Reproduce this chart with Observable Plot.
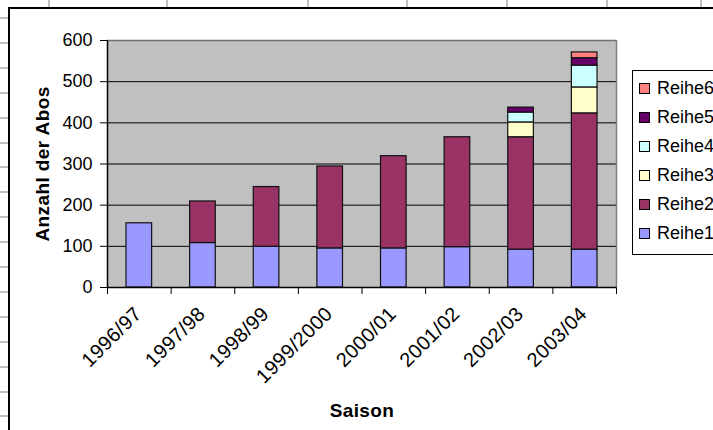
<!DOCTYPE html>
<html>
<head>
<meta charset="utf-8">
<script src="https://cdn.jsdelivr.net/npm/d3@7"></script>
<script src="https://cdn.jsdelivr.net/npm/@observablehq/plot@0.6"></script>
<style>
  html, body { margin: 0; padding: 0; background: #fff; }
  body { width: 713px; height: 430px; overflow: hidden; position: relative; font-family: "Liberation Sans", Arial, sans-serif; }
  .sheet-v { position: absolute; top: 0; width: 2px; height: 12px; background: #c0c0c0; }
  .sheet-h { position: absolute; left: 0; height: 2px; width: 14px; background: #c0c0c0; }
  #frame { position: absolute; left: 8px; top: 7px; width: 760px; height: 480px; border-left: 2px solid #000; border-top: 2px solid #000; background: #fff; }
  #chart { position: absolute; left: 0; top: 0; }
  #legend { position: absolute; left: 632px; top: 70px; width: 110px; height: 183px; border: 1px solid #000; background: #fff; }
  .item { position: absolute; left: 0; height: 20px; line-height: 20px; font-size: 18px; color: #000; white-space: nowrap; }
  .sw { position: absolute; left: 6px; top: 5px; width: 9px; height: 9px; border: 1px solid #000; }
  .lbl { position: absolute; left: 24px; top: 0; }
  #chart svg g[aria-label="text"] text { letter-spacing: 0.4px; }
</style>
</head>
<body>
<div id="frame"></div>
<div id="chart"></div>
<div id="legend"></div>
<script>
// ---- data ----
const seasons = ["1996/97", "1997/98", "1998/99", "1999/2000", "2000/01", "2001/02", "2002/03", "2003/04"];
const seriesNames = ["Reihe1", "Reihe2", "Reihe3", "Reihe4", "Reihe5", "Reihe6"];
const reihe1 = [156, 108, 99, 95, 95, 98, 92, 92];
const reihe2 = [0, 101, 145, 199, 224, 267, 273, 331];
const reihe3 = [0, 0, 0, 0, 0, 0, 36, 63];
const reihe4 = [0, 0, 0, 0, 0, 0, 24, 53];
const reihe5 = [0, 0, 0, 0, 0, 0, 12, 18];
const reihe6 = [0, 0, 0, 0, 0, 0, 0, 14];
const seriesColors = ["#9999ff", "#993366", "#ffffcc", "#ccffff", "#660066", "#ff8080"];
const yTicks = [0, 100, 200, 300, 400, 500, 600];
const xTitle = "Saison";
const yTitle = "Anzahl der Abos";

const seriesValues = [reihe1, reihe2, reihe3, reihe4, reihe5, reihe6];
const rows = seasons.flatMap((s, i) =>
  seriesNames.map((name, k) => ({i, season: s, series: name, value: seriesValues[k][i]}))
).filter(d => d.value > 0);

// ---- spreadsheet background lines ----
[48, 166, 307, 406, 506, 606, 700].forEach(x => {
  const d = document.createElement("div"); d.className = "sheet-v"; d.style.left = x + "px";
  document.body.insertBefore(d, document.body.firstChild);
});
for (let k = 0; k < 17; k++) {
  const d = document.createElement("div"); d.className = "sheet-h"; d.style.top = (17 + 24.9 * k) + "px";
  document.body.insertBefore(d, document.body.firstChild);
}

// ---- chart ----
const chart = Plot.plot({
  width: 713,
  height: 430,
  marginLeft: 107,
  marginRight: 97,
  marginTop: 40,
  marginBottom: 143,
  style: {background: "transparent", fontFamily: "Liberation Sans, Arial, sans-serif", fontSize: "18px", color: "#000", overflow: "visible"},
  x: {domain: [0, seasons.length], ticks: seasons.length, tickFormat: () => "", tickSize: 7, label: null},
  y: {domain: [0, 600], ticks: yTicks, tickSize: 7, tickPadding: 8, label: null},
  color: {domain: seriesNames, range: seriesColors},
  marks: [
    Plot.frame({fill: "#c0c0c0", stroke: "none"}),
    Plot.ruleY(yTicks.slice(1), {stroke: "#000", strokeWidth: 1}),
    Plot.rectY(rows, {x1: "i", x2: d => d.i + 1, y: "value", fill: "series", stroke: "#111", strokeWidth: 1.2, insetLeft: 19, insetRight: 19}),
    Plot.ruleY([600], {stroke: "#707070", strokeWidth: 1.5}),
    Plot.ruleX([seasons.length], {stroke: "#808080", strokeWidth: 1.5}),
    Plot.ruleX([0], {stroke: "#000", strokeWidth: 1.5}),
    Plot.ruleY([0], {stroke: "#000", strokeWidth: 1.5}),
    Plot.text(seasons, {x: (d, i) => i + 0.5, y: () => 0, text: d => d, rotate: -45, textAnchor: "end", lineAnchor: "middle", dx: -1, dy: 23, fontSize: 20}),
    Plot.text([yTitle], {frameAnchor: "left", rotate: -90, textAnchor: "middle", lineAnchor: "middle", dx: -65, fontWeight: "bold", fontSize: 19}),
    Plot.text([xTitle], {frameAnchor: "bottom", textAnchor: "middle", lineAnchor: "middle", dy: 123, fontWeight: "bold", fontSize: 19})
  ]
});
document.getElementById("chart").appendChild(chart);

// ---- legend ----
const legend = document.getElementById("legend");
seriesNames.slice().reverse().forEach((name, j) => {
  const k = seriesNames.indexOf(name);
  const item = document.createElement("div");
  item.className = "item";
  item.style.top = (7 + 29 * j) + "px";
  const sw = document.createElement("div"); sw.className = "sw"; sw.style.background = seriesColors[k];
  const lbl = document.createElement("div"); lbl.className = "lbl"; lbl.textContent = name;
  item.appendChild(sw); item.appendChild(lbl);
  legend.appendChild(item);
});
</script>
</body>
</html>
